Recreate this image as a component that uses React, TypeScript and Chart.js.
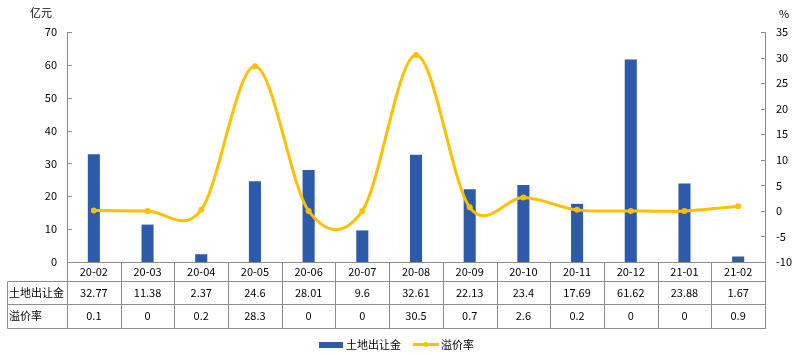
import React, { useEffect, useRef } from "react";
import { Chart, registerables } from "chart.js";

Chart.register(...registerables);

const categories = ["20-02", "20-03", "20-04", "20-05", "20-06", "20-07", "20-08", "20-09", "20-10", "20-11", "20-12", "21-01", "21-02"];
const landPremium = [32.77, 11.38, 2.37, 24.6, 28.01, 9.6, 32.61, 22.13, 23.4, 17.69, 61.62, 23.88, 1.67];
const premiumRate = [0.1, 0, 0.2, 28.3, 0, 0, 30.5, 0.7, 2.6, 0.2, 0, 0, 0.9];
const landLabel = "土地出让金";
const rateLabel = "溢价率";
const leftUnit = "亿元";
const rightUnit = "%";

const FONT = '"Noto Sans CJK SC", "Noto Sans", sans-serif';
const GRAY = "#8c8c8c";
const BAR = "#2E5BA9";
const LINE = "#FFC000";

// Excel-like (Catmull-Rom) smoothing of the line
const smoothPlugin = {
  id: "smoothPlugin",
  beforeDatasetsDraw(chart: any) {
    const meta = chart.getDatasetMeta(0);
    if (!meta || !meta.dataset) return;
    if (typeof meta.dataset.updateControlPoints === "function") {
      meta.dataset.updateControlPoints(chart.chartArea, "x");
    }
    const pts = meta.data;
    for (let i = 0; i < pts.length; i++) {
      const p = pts[i];
      const prev = pts[i - 1] || p;
      const next = pts[i + 1] || p;
      const dx = (next.x - prev.x) / 6;
      const dy = (next.y - prev.y) / 6;
      p.cp1x = p.x - dx;
      p.cp1y = p.y - dy;
      p.cp2x = p.x + dx;
      p.cp2y = p.y + dy;
    }
  },
};

const tablePlugin = {
  id: "tablePlugin",
  afterDraw(chart: any) {
    const ctx = chart.ctx;
    const area = chart.chartArea;
    const x = chart.scales.x;
    const yl = chart.scales.y;
    const yr = chart.scales.y1;
    const left = area.left;
    const right = area.right;
    const bottom = area.bottom;
    const n = categories.length;
    const colW = (right - left) / n;
    const r0 = bottom;
    const r1 = bottom + 18.5;
    const r2 = bottom + 42;
    const r3 = bottom + 65.5;
    const tableLeft = 7.5;
    ctx.save();
    ctx.strokeStyle = GRAY;
    ctx.lineWidth = 1;
    ctx.beginPath();
    ctx.moveTo(Math.round(left) + 0.5, area.top);
    ctx.lineTo(Math.round(left) + 0.5, bottom);
    ctx.moveTo(Math.round(right) + 0.5, area.top);
    ctx.lineTo(Math.round(right) + 0.5, bottom);
    yl.ticks.forEach((t: any) => {
      const py = Math.round(yl.getPixelForValue(t.value)) + 0.5;
      ctx.moveTo(Math.round(left) + 0.5, py);
      ctx.lineTo(Math.round(left) + 5, py);
    });
    yr.ticks.forEach((t: any) => {
      const py = Math.round(yr.getPixelForValue(t.value)) + 0.5;
      ctx.moveTo(Math.round(right) - 4, py);
      ctx.lineTo(Math.round(right) + 0.5, py);
    });
    const hy = (v: number) => Math.round(v) + 0.5;
    ctx.moveTo(left, hy(r0));
    ctx.lineTo(right + 1, hy(r0));
    [r1, r2, r3].forEach((r) => {
      ctx.moveTo(tableLeft, hy(r));
      ctx.lineTo(right + 1, hy(r));
    });
    ctx.moveTo(tableLeft, hy(r1));
    ctx.lineTo(tableLeft, hy(r3));
    for (let i = 0; i <= n; i++) {
      const vx = Math.round(left + i * colW) + 0.5;
      ctx.moveTo(vx, hy(r0));
      ctx.lineTo(vx, hy(r3));
    }
    ctx.stroke();

    ctx.fillStyle = "#000";
    ctx.font = `11px ${FONT}`;
    ctx.textBaseline = "middle";
    ctx.textAlign = "center";
    for (let i = 0; i < n; i++) {
      const cx = x.getPixelForValue(i);
      ctx.fillText(categories[i], cx, (r0 + r1) / 2 + 0.5);
      ctx.fillText(String(landPremium[i]), cx, (r1 + r2) / 2 + 0.5);
      ctx.fillText(String(premiumRate[i]), cx, (r2 + r3) / 2 + 0.5);
    }
    ctx.textAlign = "left";
    ctx.fillText(landLabel, 9, (r1 + r2) / 2 + 0.5);
    ctx.fillText(rateLabel, 9, (r2 + r3) / 2 + 0.5);

    ctx.fillText(leftUnit, 30, 13);
    ctx.fillText(rightUnit, 779, 14);

    const ly = 344.5;
    ctx.fillStyle = BAR;
    ctx.fillRect(319, 342, 24, 6);
    ctx.fillStyle = "#000";
    ctx.fillText(landLabel, 346, ly);
    ctx.strokeStyle = LINE;
    ctx.lineWidth = 3;
    ctx.beginPath();
    ctx.moveTo(413, ly);
    ctx.lineTo(439, ly);
    ctx.stroke();
    ctx.fillStyle = LINE;
    ctx.beginPath();
    ctx.arc(426, ly, 2.5, 0, Math.PI * 2);
    ctx.fill();
    ctx.fillStyle = "#000";
    ctx.fillText(rateLabel, 441, ly);
    ctx.restore();
  },
};

export default function App() {
  const ref = useRef<HTMLCanvasElement | null>(null);
  useEffect(() => {
    document.body.style.margin = "0";
    const canvas = ref.current;
    if (!canvas) return;
    const chart = new Chart(canvas, {
      type: "bar",
      data: {
        labels: categories,
        datasets: [
          {
            type: "line",
            label: rateLabel,
            data: premiumRate,
            yAxisID: "y1",
            borderColor: LINE,
            backgroundColor: LINE,
            borderWidth: 3,
            pointRadius: 3,
            pointBackgroundColor: LINE,
            pointBorderWidth: 0,
            tension: 0.4,
            capBezierPoints: false,
            clip: false,
            order: 0,
          } as any,
          {
            type: "bar",
            label: landLabel,
            data: landPremium,
            yAxisID: "y",
            backgroundColor: BAR,
            barPercentage: 0.9,
            categoryPercentage: 0.25,
            order: 1,
          },
        ],
      },
      options: {
        animation: false,
        responsive: false,
        maintainAspectRatio: false,
        layout: { padding: { top: 32, left: 0, right: 0, bottom: 0 } },
        plugins: { legend: { display: false }, tooltip: { enabled: false } },
        scales: {
          x: {
            type: "category",
            offset: true,
            grid: { display: false, drawTicks: false },
            border: { display: false },
            ticks: { display: false },
            afterFit: (s: any) => {
              s.height = 93;
            },
          },
          y: {
            position: "left",
            min: 0,
            max: 70,
            grid: { display: false, drawTicks: false },
            border: { display: false },
            ticks: { stepSize: 10, padding: 10, color: "#000", font: { family: FONT, size: 11 } },
            afterFit: (s: any) => {
              s.width = 67;
            },
          },
          y1: {
            position: "right",
            min: -10,
            max: 35,
            grid: { display: false, drawTicks: false },
            border: { display: false },
            ticks: { stepSize: 5, padding: 11, color: "#000", font: { family: FONT, size: 11 } },
            afterFit: (s: any) => {
              s.width = 37;
            },
          },
        },
      },
      plugins: [smoothPlugin, tablePlugin],
    });
    return () => chart.destroy();
  }, []);
  return (
    <div style={{ position: "absolute", left: 0, top: 0, width: 802, height: 355, background: "#fff" }}>
      <canvas ref={ref} width={802} height={355} style={{ display: "block", width: 802, height: 355 }} />
    </div>
  );
}
